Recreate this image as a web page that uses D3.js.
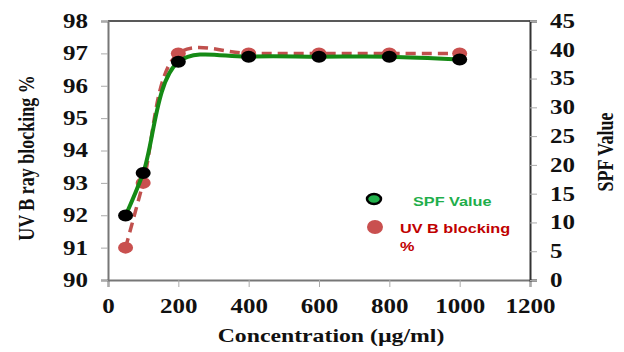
<!DOCTYPE html>
<html>
<head>
<meta charset="utf-8">
<script src="https://cdn.jsdelivr.net/npm/d3@7"></script>
<style>
  body { margin: 0; background: #fff; }
</style>
</head>
<body>
<svg id="chart" width="624" height="352"></svg>
<script>
// data
const concentration = [50, 100, 200, 400, 600, 800, 1000];
const uvbBlocking = [91, 93, 97, 97, 97, 97, 97];            // left axis, %
const spfValue = [11.2, 18.6, 37.9, 38.8, 38.8, 38.8, 38.3]; // right axis
const xTicks = [0, 200, 400, 600, 800, 1000, 1200];
const leftTicks = [90, 91, 92, 93, 94, 95, 96, 97, 98];
const rightTicks = [0, 5, 10, 15, 20, 25, 30, 35, 40, 45];

const svg = d3.select("#chart");
const mLeft = 108, mRight = 530, mTop = 21, mBottom = 280;
const serif = "Liberation Serif, Times New Roman, serif";
const sans = "Liberation Sans, Arial, sans-serif";
const sx = 1.25; // the picture is stretched sideways, so is its text

// stretch a text sideways, keeping its anchor point
function stretch(t) {
  t.each(function () {
    const el = d3.select(this);
    const x0 = +el.attr("x") || 0;
    el.attr("x", x0 / sx).attr("transform", `scale(${sx},1)`);
  });
}

const x = d3.scaleLinear().domain([0, 1200]).range([mLeft, mRight]);
const yL = d3.scaleLinear().domain([90, 98]).range([mBottom, mTop]);
const yR = d3.scaleLinear().domain([0, 45]).range([mBottom, mTop]);

// frame top
svg.append("line").attr("x1", mLeft).attr("x2", mRight).attr("y1", mTop).attr("y2", mTop)
  .attr("stroke", "#222").attr("stroke-width", 1.5);

// axes
const gx = svg.append("g").attr("transform", `translate(0,${mBottom})`)
  .call(d3.axisBottom(x).tickValues(xTicks).tickFormat(d3.format("d")).tickSize(7).tickPadding(12));
const gl = svg.append("g").attr("transform", `translate(${mLeft},0)`)
  .call(d3.axisLeft(yL).tickValues(leftTicks).tickSize(7).tickPadding(13));
const gr = svg.append("g").attr("transform", `translate(${mRight},0)`)
  .call(d3.axisRight(yR).tickValues(rightTicks).tickSize(7).tickPadding(13));

[gx, gl, gr].forEach(g => {
  g.select(".domain").attr("stroke", "#777").attr("stroke-width", 2);
  g.selectAll(".tick line").attr("stroke", "#aaa").attr("stroke-width", 1);
  g.selectAll("text").attr("font-size", 20).attr("fill", "#111")
    .attr("font-family", serif).attr("font-weight", "bold").call(stretch);
});
gr.select(".domain").attr("stroke", "#333");

// lines
const curve = d3.curveCatmullRom.alpha(0.5);
const redLine = d3.line().curve(curve).x((d, i) => x(concentration[i])).y(d => yL(d));
const greenLine = d3.line().curve(curve).x((d, i) => x(concentration[i])).y(d => yR(d));

svg.append("path").datum(uvbBlocking).attr("d", redLine)
  .attr("fill", "none").attr("stroke", "#c0504d").attr("stroke-width", 3.5)
  .attr("stroke-dasharray", "10,6");

svg.selectAll(".reddot").data(uvbBlocking).enter().append("ellipse")
  .attr("cx", (d, i) => x(concentration[i])).attr("cy", d => yL(d))
  .attr("rx", 7.5).attr("ry", 6).attr("fill", "#c9504f");

svg.append("path").datum(spfValue).attr("d", greenLine)
  .attr("fill", "none").attr("stroke", "#158a15").attr("stroke-width", 4);

svg.selectAll(".blackdot").data(spfValue).enter().append("ellipse")
  .attr("cx", (d, i) => x(concentration[i])).attr("cy", d => yR(d))
  .attr("rx", 7.5).attr("ry", 6).attr("fill", "#000");

// legend
svg.append("ellipse").attr("cx", 374).attr("cy", 199).attr("rx", 7).attr("ry", 5)
  .attr("fill", "#22b14c").attr("stroke", "#000").attr("stroke-width", 2.5);
svg.append("ellipse").attr("cx", 375).attr("cy", 227).attr("rx", 8).attr("ry", 7).attr("fill", "#c9504f");

const legendText = [
  { x: 413, y: 206, t: "SPF Value", c: "#1fae4b" },
  { x: 400, y: 233, t: "UV B blocking", c: "#c00000" },
  { x: 400, y: 251, t: "%", c: "#c00000" }
];
svg.selectAll(".legtext").data(legendText).enter().append("text")
  .attr("x", d => d.x).attr("y", d => d.y).text(d => d.t)
  .attr("font-family", sans).attr("font-weight", "bold").attr("font-size", 13)
  .attr("fill", d => d.c).call(stretch);

// axis titles
svg.append("text").attr("transform", `translate(34,158) rotate(-90) scale(1,${sx})`)
  .attr("text-anchor", "middle").attr("font-family", serif).attr("font-weight", "bold")
  .attr("font-size", 18).attr("fill", "#111").text("UV B ray blocking %");
svg.append("text").attr("transform", `translate(613,152) rotate(-90) scale(1,${sx})`)
  .attr("text-anchor", "middle").attr("font-family", serif).attr("font-weight", "bold")
  .attr("font-size", 18).attr("fill", "#111").text("SPF Value");
svg.append("text").attr("x", 331).attr("y", 342)
  .attr("text-anchor", "middle").attr("font-family", serif).attr("font-weight", "bold")
  .attr("font-size", 19).attr("fill", "#111").text("Concentration (µg/ml)").call(stretch);
</script>
</body>
</html>
